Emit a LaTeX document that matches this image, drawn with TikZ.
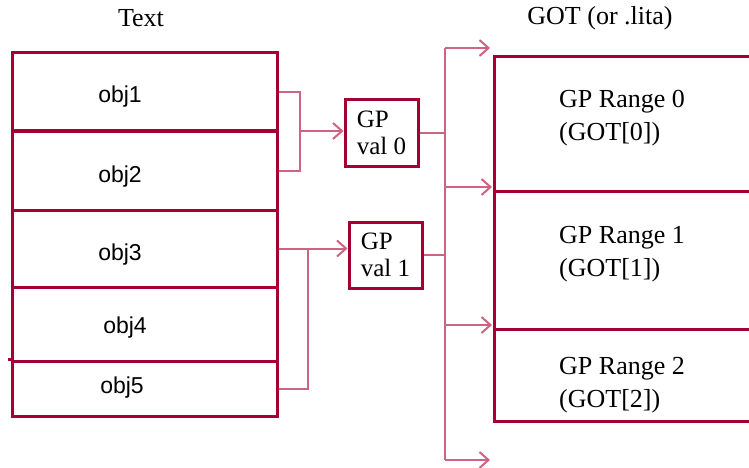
\documentclass[tikz,border=0pt]{standalone}
\usepackage{fontspec}
\setmainfont{Liberation Serif}
\newfontfamily\objfont{Liberation Sans}
\usetikzlibrary{arrows.meta,calc}

\definecolor{wine}{RGB}{165,0,52}
\definecolor{rose}{RGB}{205,100,130}

\tikzset{
  cell/.style={draw=wine, line width=3pt, minimum width=265pt, inner sep=0pt},
  gotcell/.style={draw=wine, line width=3pt, minimum width=266pt, inner sep=0pt},
  gpbox/.style={draw=wine, line width=3pt, minimum width=73pt, minimum height=66pt,
    inner sep=0pt, align=left, font=\fontsize{25}{27}\selectfont},
  lbl/.style={font=\fontsize{26}{33}\selectfont, inner sep=0pt},
  objlbl/.style={font=\objfont\fontsize{23}{26}\selectfont, inner sep=0pt},
  link/.style={draw=rose, line width=2pt},
  chev/.style={-{Straight Barb[length=9pt,width=16pt,line width=2pt]}}
}

\begin{document}
\begin{tikzpicture}[x=1pt,y=-1pt]
    \useasboundingbox (0,0) rectangle (749,468);

    % Titles
    \node[lbl] (texttitle) at (141,18) {Text};
    \node[lbl] (gottitle) at (600,18) {GOT (or .lita)};

    % Text section
    \node[cell, minimum height=78pt] (obj1) at (144.5,92) {};
    \node[cell, minimum height=79pt] (obj2) at (144.5,170.5) {};
    \node[cell, minimum height=77pt] (obj3) at (144.5,248.5) {};
    \node[cell, minimum height=74pt] (obj4) at (144.5,324) {};
    \node[cell, minimum height=55pt] (obj5) at (144.5,388.5) {};
    \node[objlbl] (o1) at (120,97) {obj1};
    \node[objlbl] (o2) at (120,177) {obj2};
    \node[objlbl] (o3) at (120,255) {obj3};
    \node[objlbl] (o4) at (125,328) {obj4};
    \node[objlbl] (o5) at (122,388) {obj5};
    \draw[wine, line width=3pt] (obj5.north west) -- ++(-3,0);

    % GP values
    \node[gpbox] (gp0) at (381.5,133) {GP\\val 0};
    \node[gpbox] (gp1) at (385.5,255) {GP\\val 1};

    % GOT
    \node[gotcell, minimum height=134pt] (got0) at (627,124) {};
    \node[gotcell, minimum height=138pt] (got1) at (627,260) {};
    \node[gotcell, minimum height=92pt] (got2) at (627,375) {};
    \node[lbl, anchor=west, align=left] (g0) at (559,118) {GP Range 0\\(GOT[0])};
    \node[lbl, anchor=west, align=left] (g1) at (559,254) {GP Range 1\\(GOT[1])};
    \node[lbl, anchor=west, align=left] (g2) at (559,385) {GP Range 2\\(GOT[2])};

    % Bus coordinates
    \coordinate (b0) at (300,131);
    \coordinate (b1) at (308,248.5);
    \coordinate (r0) at (490,48);
    \coordinate (r1) at (492,187);
    \coordinate (r2) at (492,325);
    \coordinate (r3) at (490,460);
    \coordinate (bus) at (445,0);

    % Text -> GP values
    \draw[link] (obj1.east) -| (b0) |- (obj2.east);
    \draw[link, chev] (b0) -- (b0 -| gp0.west);
    \draw[link, chev] (obj3.east) -- (obj3.east -| gp1.west);
    \draw[link] (obj5.east) -| (b1);

    % GP values -> GOT
    \draw[link] (gp0.east) -- (gp0.east -| bus);
    \draw[link] (gp1.east) -- (gp1.east -| bus);
    \draw[link] (r0 -| bus) -- (r3 -| bus);
    \foreach \r in {r0,r1,r2,r3}
      \draw[link, chev] (\r -| bus) -- (\r);
\end{tikzpicture}
\end{document}
